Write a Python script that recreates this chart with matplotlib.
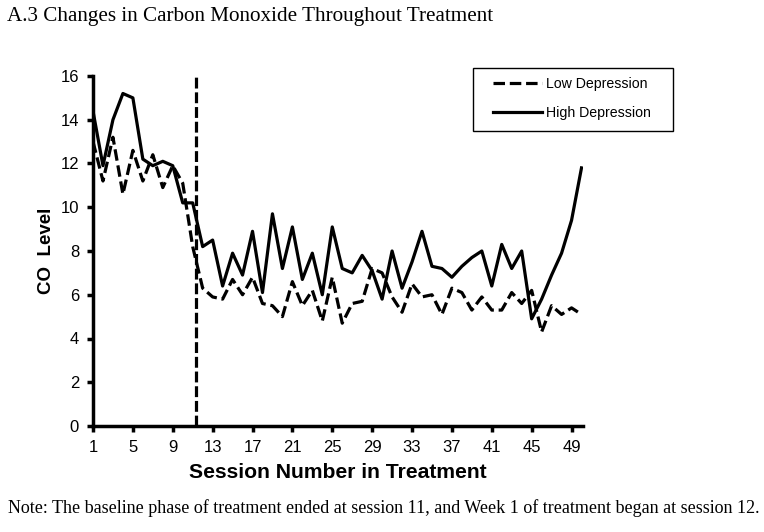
import matplotlib
matplotlib.use("Agg")
import matplotlib.pyplot as plt
from matplotlib.patches import Rectangle

# sesiones 1..50
sesiones = list(range(1, 51))

# nivel de CO, grupo de baja depresion (linea discontinua)
baja_depresion = [13.0, 11.2, 13.2, 10.6, 12.6, 11.2, 12.4, 10.9, 11.9, 11.1,
                  8.2, 6.3, 5.9, 5.8, 6.7, 6.0, 6.8, 5.6, 5.5, 5.0,
                  6.6, 5.5, 6.2, 4.8, 6.8, 4.7, 5.6, 5.7, 7.2, 7.0,
                  5.9, 5.2, 6.5, 5.9, 6.0, 5.1, 6.3, 6.1, 5.3, 5.9,
                  5.3, 5.3, 6.1, 5.6, 6.2, 4.3, 5.5, 5.1, 5.4, 5.1]

# nivel de CO, grupo de alta depresion (linea continua)
alta_depresion = [14.4, 11.9, 14.0, 15.2, 15.0, 12.2, 11.9, 12.1, 11.9, 10.2,
                  10.2, 8.2, 8.5, 6.4, 7.9, 6.9, 8.9, 6.1, 9.7, 7.2,
                  9.1, 6.7, 7.9, 6.0, 9.1, 7.2, 7.0, 7.8, 7.1, 5.8,
                  8.0, 6.3, 7.5, 8.9, 7.3, 7.2, 6.8, 7.3, 7.7, 8.0,
                  6.4, 8.3, 7.2, 8.0, 4.9, 5.8, 6.9, 7.9, 9.4, 11.8]

marcas_x = list(range(1, 50, 4))
marcas_y = list(range(0, 17, 2))
fin_linea_base = 11.3

fig = plt.figure(figsize=(7.64, 5.32), dpi=100)
ax = fig.add_axes([93 / 764, 1 - 426 / 532, (583 - 93) / 764, (426 - 76) / 532])

ax.plot(sesiones, baja_depresion, color='black', lw=2.3, ls=(0, (3.6, 1.5)),
        label='Low Depression')
ax.plot(sesiones, alta_depresion, color='black', lw=2.3, label='High Depression')
ax.plot([fin_linea_base, fin_linea_base], [0, 16], color='black', lw=2.3,
        ls=(0, (3.4, 1.2)))

ax.set_xlim(1, 50.15)
ax.set_ylim(0, 16)
ax.set_xticks(marcas_x)
ax.set_yticks(marcas_y)

for s in ['top', 'right']:
    ax.spines[s].set_visible(False)
for s in ['left', 'bottom']:
    ax.spines[s].set_linewidth(2.5)
ax.tick_params(axis='both', direction='out', width=2.5, length=4,
               labelsize=12)
ax.tick_params(axis='x', pad=6)
ax.tick_params(axis='y', pad=6)
for lbl in ax.get_xticklabels() + ax.get_yticklabels():
    lbl.set_family('Liberation Sans')

ax.set_xlabel('Session Number in Treatment', fontsize=15.2, fontweight='bold',
              family='Liberation Sans', labelpad=6)
ax.set_ylabel('CO  Level', fontsize=13.5, fontweight='bold',
              family='Liberation Sans', labelpad=4)

# caja de la leyenda dibujada aparte
caja = Rectangle((473 / 764, 1 - 131 / 532), 200 / 764, 63 / 532,
                 transform=fig.transFigure, fill=False, edgecolor='black', lw=1.0)
fig.patches.append(caja)
leg = ax.legend(loc='center left', bbox_to_anchor=(493 / 764, 1 - 98.5 / 532),
                bbox_transform=fig.transFigure, frameon=False,
                handlelength=3.45, handletextpad=0.28, borderpad=0,
                labelspacing=1.1, borderaxespad=0,
                prop={'family': 'Liberation Sans', 'size': 10.2})

fig.text(7 / 764, 1 - 16 / 532, 'A.3 Changes in Carbon Monoxide Throughout Treatment',
         fontsize=15.2, family='Liberation Serif', va='center', ha='left')
fig.text(8 / 764, 1 - 508 / 532,
         'Note: The baseline phase of treatment ended at session 11, and Week 1 of treatment began at session 12.',
         fontsize=13.0, family='Liberation Serif', va='center', ha='left')

fig.savefig('out.png', dpi=100)
